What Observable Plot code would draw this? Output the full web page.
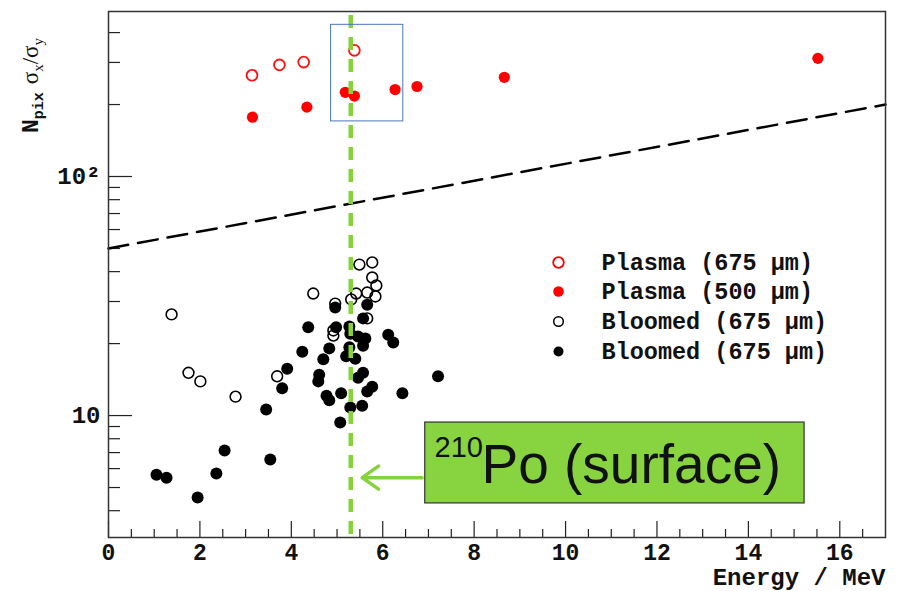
<!DOCTYPE html>
<html><head><meta charset="utf-8">
<script src="https://cdn.jsdelivr.net/npm/d3@7"></script>
<script src="https://cdn.jsdelivr.net/npm/@observablehq/plot@0.6"></script>
<style>
body{margin:0;background:#fff;}
#chart{position:relative;width:901px;height:591px;}
</style>
</head><body><div id="chart"></div>
<script>
// ---- data ----
const plasma675E = [3.14, 3.74, 4.27, 5.38];
const plasma675R = [265, 293, 301, 337];
const plasma500E = [3.15, 4.34, 5.18, 5.38, 6.27, 6.75, 8.66, 15.52];
const plasma500R = [177, 195, 225, 217, 231, 238, 260, 312];
const bloomedOpenE = [1.38,1.75,2.01,2.78,3.69,4.48,4.96,4.92,4.92,5.31,5.42,5.49,5.77,5.77,5.86,5.66,5.84,5.66];
const bloomedOpenR = [26.5,15.1,13.9,12.0,14.6,32.4,29.4,22.7,21.6,30.6,32.4,42.8,43.7,37.8,35.0,32.7,31.5,25.5];
const bloomedFilledE = [1.05,1.27,1.95,2.36,2.54,3.45,3.54,3.80,3.91,4.24,4.37,4.61,4.59,4.70,4.77,4.83,4.83,4.96,4.98,5.07,5.09,5.20,5.27,5.29,5.27,5.29,5.40,5.46,5.55,5.57,5.62,5.57,5.66,5.57,5.46,5.77,5.66,6.12,6.23,6.43,7.21];
const bloomedFilledR = [5.66,5.50,4.54,5.72,7.14,10.6,6.55,13.0,15.7,18.5,23.4,14.8,13.9,17.2,12.1,11.6,19.1,28.3,23.4,9.35,12.4,17.7,23.6,22.0,19.3,10.8,17.3,21.4,11.0,19.6,21.0,25.5,29.1,15.1,14.4,13.2,12.6,21.8,20.2,12.4,14.6];
const cutE = [0, 17];
const cutR = [50, 200];
const po210Energy = [5.3];
const legendLabels = ["Plasma (675 \u03bcm)", "Plasma (500 \u03bcm)", "Bloomed (675 \u03bcm)", "Bloomed (675 \u03bcm)"];
const xTickValues = [0, 2, 4, 6, 8, 10, 12, 14, 16];
const yTickValues = [10, 100];
const yTickLabels = ["10", "10\u00b2"];
const yMinorValues = [4,5,6,7,8,9,20,30,40,50,60,70,80,90,200,300,400];
const annotSup = "210";
const annotText = "Po (surface)";

// ---- build tables ----
const zip = (E, R) => E.map((e, i) => ({e, r: R[i]}));
const p675 = zip(plasma675E, plasma675R);
const p500 = zip(plasma500E, plasma500R);
const bOpen = zip(bloomedOpenE, bloomedOpenR);
const bFill = zip(bloomedFilledE, bloomedFilledR);
const cut = zip(cutE, cutR);
const xMinor = d3.range(0.5, 17, 0.5).filter(v => v % 2 !== 0);

const W = 901, H = 591, mL = 108, mR = 16, mT = 11, mB = 54;
const fW = W - mL - mR, fH = H - mT - mB;
const mono = "'Liberation Mono', 'Courier New', monospace";
const sans = "'Liberation Sans', Arial, sans-serif";
const green = "#86d23a";
const tickColor = "#222";

// annotation geometry (data coordinates)
const blueBox = {x1: 4.87, x2: 6.45, y1: 170, y2: 431};
const greenBox = {x1: 6.93, x2: 15.23, y1: 4.29, y2: 9.35};
const arrowSpec = {x1: 6.86, x2: 5.55, y: 5.5};

const legendStyles = [
  {fill: "none", stroke: "#ff0000", r: 5.3, sw: 1.8},
  {fill: "#ff0000", stroke: "none", r: 5.3, sw: 0},
  {fill: "none", stroke: "#000", r: 4.8, sw: 1.5},
  {fill: "#000", stroke: "none", r: 5, sw: 0}
];
const legendRows = [262, 291, 321, 351];
const legendMarks = legendLabels.flatMap((lab, i) => [
  Plot.dot([0], {frameAnchor: "top-left", dx: 558 - mL, dy: legendRows[i] - mT,
    r: legendStyles[i].r, fill: legendStyles[i].fill, stroke: legendStyles[i].stroke, strokeWidth: legendStyles[i].sw}),
  Plot.text([lab], {frameAnchor: "top-left", dx: 601 - mL, dy: legendRows[i] - mT,
    textAnchor: "start", lineAnchor: "middle", fontSize: 23.5, fontWeight: "bold", fontFamily: mono, fill: "#111"})
]);

const plot = Plot.plot({
  width: W, height: H,
  marginLeft: mL, marginRight: mR, marginTop: mT, marginBottom: mB,
  style: {background: "#fff", fontFamily: mono, overflow: "visible"},
  x: {domain: [0, 17]},
  y: {type: "log", domain: [3.09, 490]},
  marks: [
    Plot.axisX({ticks: xTickValues, tickSize: 0, tickPadding: 6, label: null,
      fontSize: 23, fontWeight: "bold", fontFamily: mono, fill: "#111"}),
    Plot.axisY({ticks: yTickValues, tickSize: 0, tickPadding: 8, label: null,
      tickFormat: d => yTickLabels[yTickValues.indexOf(d)],
      fontSize: 24, fontWeight: "bold", fontFamily: mono, fill: "#111"}),
    // inward ticks
    Plot.ruleX(xTickValues, {stroke: tickColor, strokeWidth: 1.2, insetTop: fH - 16}),
    Plot.ruleX(xMinor, {stroke: tickColor, strokeWidth: 1.2, insetTop: fH - 8}),
    Plot.ruleY(yTickValues, {stroke: tickColor, strokeWidth: 1.2, insetRight: fW - 24}),
    Plot.ruleY(yMinorValues, {stroke: tickColor, strokeWidth: 1.2, insetRight: fW - 12}),
    // cut line
    Plot.line(cut, {x: "e", y: "r", stroke: "#000", strokeWidth: 2.5, strokeDasharray: "20,10"}),
    // points
    Plot.dot(bFill, {x: "e", y: "r", r: 6, fill: "#000", stroke: "none"}),
    Plot.dot(bOpen, {x: "e", y: "r", r: 5.4, fill: "none", stroke: "#000", strokeWidth: 1.6}),
    Plot.dot(p500, {x: "e", y: "r", r: 5.6, fill: "#ff0000", stroke: "none"}),
    Plot.dot(p675, {x: "e", y: "r", r: 5.4, fill: "none", stroke: "#ff1010", strokeWidth: 1.8}),
    // Po-210 line
    Plot.ruleX(po210Energy, {stroke: green, strokeWidth: 4.5, strokeDasharray: "13,9", insetTop: 4}),
    Plot.rect([blueBox], {x1: "x1", x2: "x2", y1: "y1", y2: "y2", fill: "none", stroke: "#4a76bf", strokeWidth: 1}),
    // annotation
    Plot.rect([greenBox], {x1: "x1", x2: "x2", y1: "y1", y2: "y2", fill: "#88d440", stroke: "#333", strokeWidth: 1.2}),
    Plot.arrow([arrowSpec], {x1: "x1", x2: "x2", y1: "y", y2: "y", stroke: green, strokeWidth: 3.5, headLength: 17, headAngle: 70}),
    Plot.text([annotSup], {frameAnchor: "top-left", dx: 434 - mL, dy: 457 - 9.3 - mT, textAnchor: "start", lineAnchor: "middle",
      fontSize: 29, fontFamily: sans, fontWeight: "normal", fill: "#111", ariaLabel: "po-sup"}),
    Plot.text([annotText], {frameAnchor: "top-left", dx: 481 - mL, dy: 482 - 17.3 - mT, textAnchor: "start", lineAnchor: "middle",
      fontSize: 55, fontFamily: sans, fontWeight: "normal", fill: "#111", ariaLabel: "po-text"}),
    // x label
    Plot.text(["Energy / MeV"], {frameAnchor: "bottom-right", dy: 40, textAnchor: "end", lineAnchor: "middle",
      fontSize: 24, fontWeight: "bold", fontFamily: mono, fill: "#111"}),
    ...legendMarks,
    Plot.frame({stroke: "#333", strokeWidth: 1.5})
  ]
});
document.getElementById("chart").appendChild(plot);

const svg = d3.select(plot);
svg.selectAll('g[aria-label="po-sup"] text').attr("textLength", 48).attr("lengthAdjust", "spacingAndGlyphs");
svg.selectAll('g[aria-label="po-text"] text').attr("textLength", 314).attr("lengthAdjust", "spacingAndGlyphs");

// y label with subscripts
const yl = svg.append("text")
  .attr("transform", "translate(38,133) rotate(-90)")
  .attr("text-anchor", "start")
  .attr("fill", "#111");
yl.append("tspan").attr("font-family", mono).attr("font-weight", "bold").attr("font-size", 23).text("N");
yl.append("tspan").attr("font-family", mono).attr("font-weight", "bold").attr("font-size", 15).attr("dy", 5).text("pix");
yl.append("tspan").attr("font-family", "'Liberation Serif', serif").attr("font-size", 23).attr("dy", -5).attr("dx", 8).text("\u03c3");
yl.append("tspan").attr("font-family", "'Liberation Serif', serif").attr("font-size", 15).attr("dy", 5).text("x");
yl.append("tspan").attr("font-family", "'Liberation Serif', serif").attr("font-size", 23).attr("dy", -5).text("/\u03c3");
yl.append("tspan").attr("font-family", "'Liberation Serif', serif").attr("font-size", 15).attr("dy", 5).text("y");
</script>
</body></html>
